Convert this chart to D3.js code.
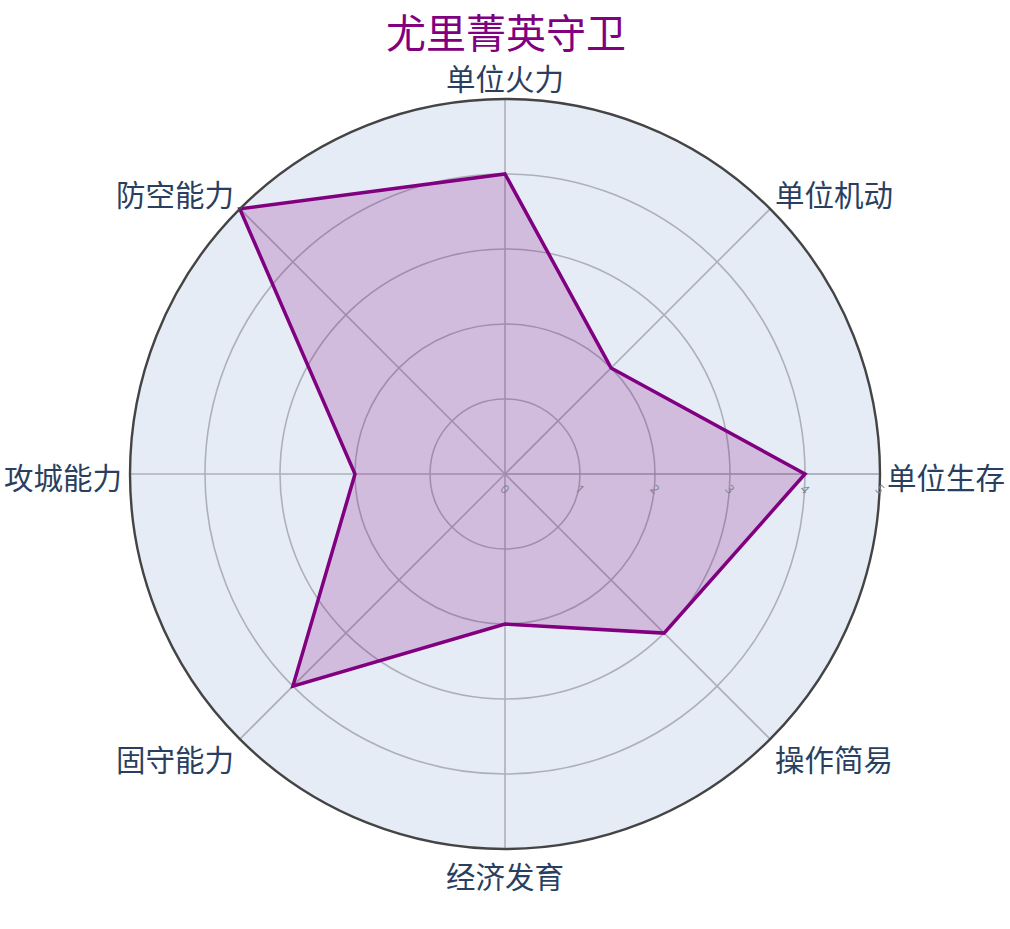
<!DOCTYPE html>
<html>
<head>
<meta charset="utf-8">
<script src="https://cdn.jsdelivr.net/npm/d3@7"></script>
<style>
  html, body { margin: 0; padding: 0; background: #fff; }
  svg { display: block; }
</style>
</head>
<body>
<svg id="chart" width="1010" height="929"></svg>
<script>
const title = "尤里菁英守卫";
const categories = ["单位火力", "单位机动", "单位生存", "操作简易", "经济发育", "固守能力", "攻城能力", "防空能力"];
const values = [4, 2, 4, 3, 2, 4, 2, 5];
const radialTicks = [0, 1, 2, 3, 4, 5];

const W = 1010, H = 929;
const cx = 505, cy = 474, R = 375;
const fontFamily = '"Open Sans", "Noto Sans CJK SC", sans-serif';

const svg = d3.select("#chart");

const angle = d3.scalePoint()
  .domain(categories)
  .range([0, 2 * Math.PI * (categories.length - 1) / categories.length]);
const r = d3.scaleLinear().domain([0, 5]).range([0, R]);

const g = svg.append("g").attr("transform", `translate(${cx},${cy})`);

// background
g.append("circle").attr("r", R).attr("fill", "#E5ECF6");

// grid circles
g.selectAll("circle.grid")
  .data(radialTicks.filter(t => t > 0 && t < 5))
  .join("circle")
  .attr("class", "grid")
  .attr("r", d => r(d))
  .attr("fill", "none")
  .attr("stroke", "#ACB0B9")
  .attr("stroke-width", 1.6);

// spokes
g.selectAll("line.spoke")
  .data(categories)
  .join("line")
  .attr("class", "spoke")
  .attr("x1", 0).attr("y1", 0)
  .attr("x2", d => R * Math.sin(angle(d)))
  .attr("y2", d => -R * Math.cos(angle(d)))
  .attr("stroke", d => d === "单位生存" ? "#9EA2AB" : "#ACB0B9")
  .attr("stroke-width", 1.6);

// data polygon
const line = d3.lineRadial()
  .angle((d, i) => angle(categories[i]))
  .radius(d => r(d))
  .curve(d3.curveLinearClosed);

g.append("path")
  .datum(values)
  .attr("d", line)
  .attr("fill", "rgba(128,0,128,0.2)")
  .attr("stroke", "#800080")
  .attr("stroke-width", 3.5)
  .attr("stroke-linejoin", "miter");

// outer circle
g.append("circle").attr("r", R)
  .attr("fill", "none")
  .attr("stroke", "#444")
  .attr("stroke-width", 2.4);

// radial tick labels
g.selectAll("text.rtick")
  .data(radialTicks)
  .join("text")
  .attr("class", "rtick")
  .attr("transform", d => `translate(${r(d)},15) rotate(45)`)
  .attr("text-anchor", "middle")
  .attr("dominant-baseline", "central")
  .attr("font-family", fontFamily)
  .attr("font-size", 12)
  .attr("fill", "#80808f")
  .text(d => d);

// angular labels
const pad = 7;
g.selectAll("text.alabel")
  .data(categories)
  .join("text")
  .attr("class", "alabel")
  .each(function(d) {
    const a = angle(d);
    const s = Math.sin(a), c = Math.cos(a);
    const x = (R + pad) * s;
    const y = -(R + pad) * c;
    let anchor = "middle";
    if (s > 0.01) anchor = "start";
    else if (s < -0.01) anchor = "end";
    const dy = -c * 17 + 3;
    d3.select(this)
      .attr("x", x + (anchor === "start" ? 0 : anchor === "end" ? -1 : 0))
      .attr("y", y + dy)
      .attr("text-anchor", anchor);
  })
  .attr("dominant-baseline", "central")
  .attr("font-family", fontFamily)
  .attr("font-size", 29.5)
  .attr("fill", "#2a3f5f")
  .text(d => d);

// title
svg.append("text")
  .attr("x", 506)
  .attr("y", 32)
  .attr("text-anchor", "middle")
  .attr("dominant-baseline", "central")
  .attr("font-family", fontFamily)
  .attr("font-size", 40)
  .attr("fill", "#800080")
  .text(title);
</script>
</body>
</html>
